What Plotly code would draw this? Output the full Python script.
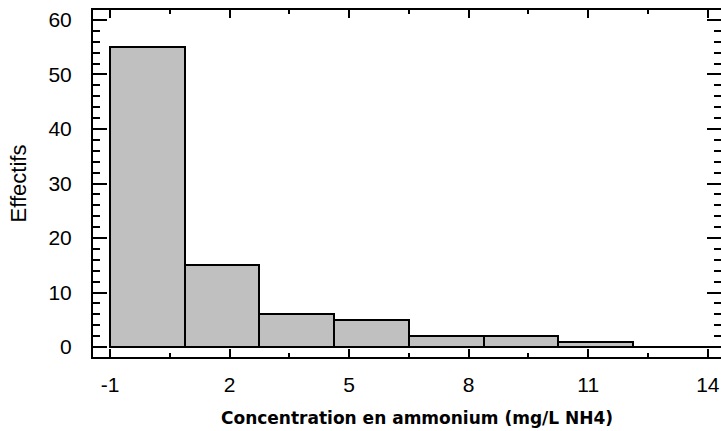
import plotly.graph_objects as go

# histogram bins (mg/L NH4) and counts
bin_edges = [-1, 0.875, 2.75, 4.625, 6.5, 8.375, 10.25, 12.125, 14]
counts = [55, 15, 6, 5, 2, 2, 1, 0]
x_ticks = [-1, 2, 5, 8, 11, 14]
x_labels = ["-1", "2", "5", "8", "11", "14"]
y_ticks = [0, 10, 20, 30, 40, 50, 60]

centers = [(a + b) / 2 for a, b in zip(bin_edges[:-1], bin_edges[1:])]
widths = [b - a for a, b in zip(bin_edges[:-1], bin_edges[1:])]

fig = go.Figure(
    go.Bar(
        x=centers,
        y=counts,
        width=widths,
        marker=dict(color="#c0c0c0", line=dict(color="black", width=2)),
        hoverinfo="x+y",
    )
)

axis_common = dict(
    showline=True,
    linecolor="black",
    linewidth=2,
    mirror="allticks",
    ticks="inside",
    tickcolor="black",
    tickwidth=2,
    showgrid=False,
    zeroline=False,
    automargin=False,
    tickfont=dict(family="Liberation Sans", size=21, color="black"),
)

fig.update_xaxes(
    **axis_common,
    range=[-1.426, 14.33],
    tickvals=x_ticks,
    ticktext=x_labels,
    ticklen=8,
    minor=dict(dtick=1.5, tick0=-1, ticks="inside", ticklen=4, tickwidth=2, tickcolor="black"),
    ticklabelstandoff=8,
)
fig.update_yaxes(
    **axis_common,
    range=[-1.83, 61.83],
    tickvals=y_ticks,
    ticklen=14,
    minor=dict(dtick=2, tick0=0, ticks="inside", ticklen=7, tickwidth=2, tickcolor="black"),
    ticklabelstandoff=15,
    title=dict(text="Effectifs", font=dict(family="Liberation Sans", size=22, color="black"), standoff=16),
)

# x title sits a little right of the plot centre in the original
fig.add_annotation(
    text="<b>Concentration en ammonium (mg/L NH4)</b>",
    xref="paper",
    yref="paper",
    x=0.516,
    y=-0.176,
    xanchor="center",
    yanchor="middle",
    showarrow=False,
    font=dict(family="DejaVu Sans", size=17, color="black"),
)

fig.update_layout(
    width=721,
    height=431,
    margin=dict(l=93, r=0, t=10, b=74),
    plot_bgcolor="white",
    paper_bgcolor="white",
    showlegend=False,
    bargap=0,
)

# drop the default page margin so the figure fills the window
fig.write_html(
    "out.html",
    config={"displayModeBar": False},
    post_script="document.body.style.margin = '0';",
)
